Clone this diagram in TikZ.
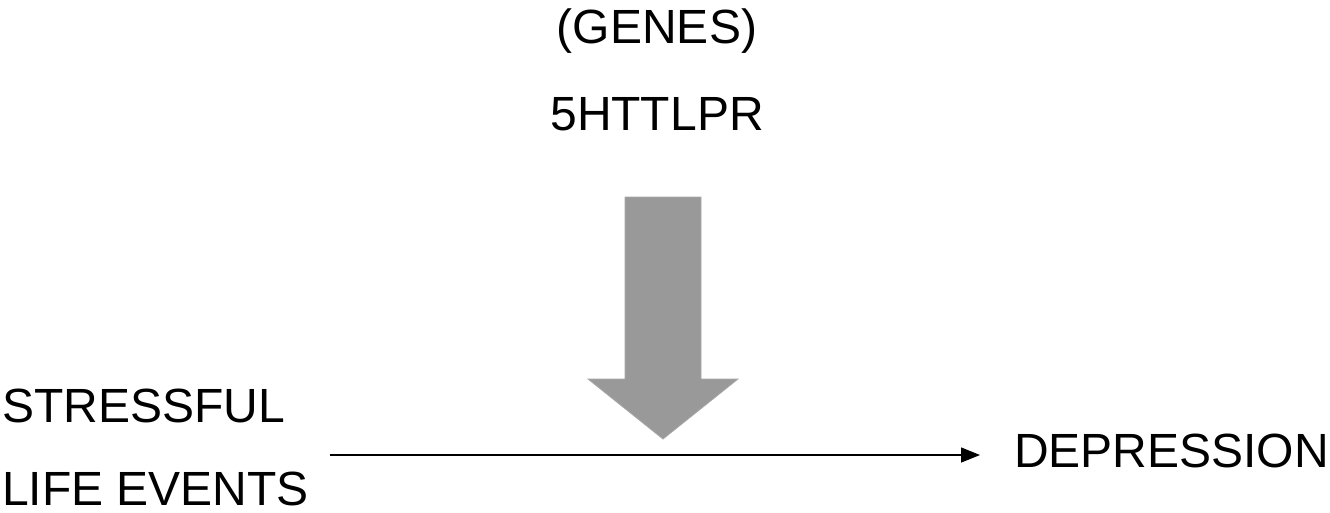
\documentclass[tikz,border=0pt]{standalone}
\usepackage{fontspec}
\setmainfont{Liberation Sans}
\usetikzlibrary{arrows.meta}
\definecolor{arrowgray}{RGB}{153,153,153}
\tikzset{
  lbl/.style={inner sep=0pt, outer sep=0pt, font=\fontsize{48}{48}\selectfont},
  thinarrow/.style={line width=1.4pt, -{Triangle[length=19pt,width=15pt]}},
  bigarrow/.style={fill=arrowgray, draw=arrowgray!85, line width=0.8pt}
}
\begin{document}
\begin{tikzpicture}[x=1pt,y=-1pt]
\useasboundingbox (0,0) rectangle (1330,512);
\node[lbl, anchor=base] (genes) at (657,43) {(GENES)};
\node[lbl, anchor=base] (gene) at (657,130) {5HTTLPR};
\node[lbl, anchor=base west] (stress) at (2,422) {STRESSFUL};
\node[lbl, anchor=base west, text depth=0pt] (life) at (2,505) {LIFE EVENTS};
\node[lbl, anchor=base west] (dep) at (1014,467) {DEPRESSION};
\coordinate (s) at (330,455);
\coordinate (e) at (980,455);
\draw[thinarrow] (s) -- (e);
\draw[bigarrow] (625,197) -- (701,197) -- (701,379) -- (738,379) -- (663,439) -- (588,379) -- (625,379) -- cycle;
\end{tikzpicture}
\end{document}
